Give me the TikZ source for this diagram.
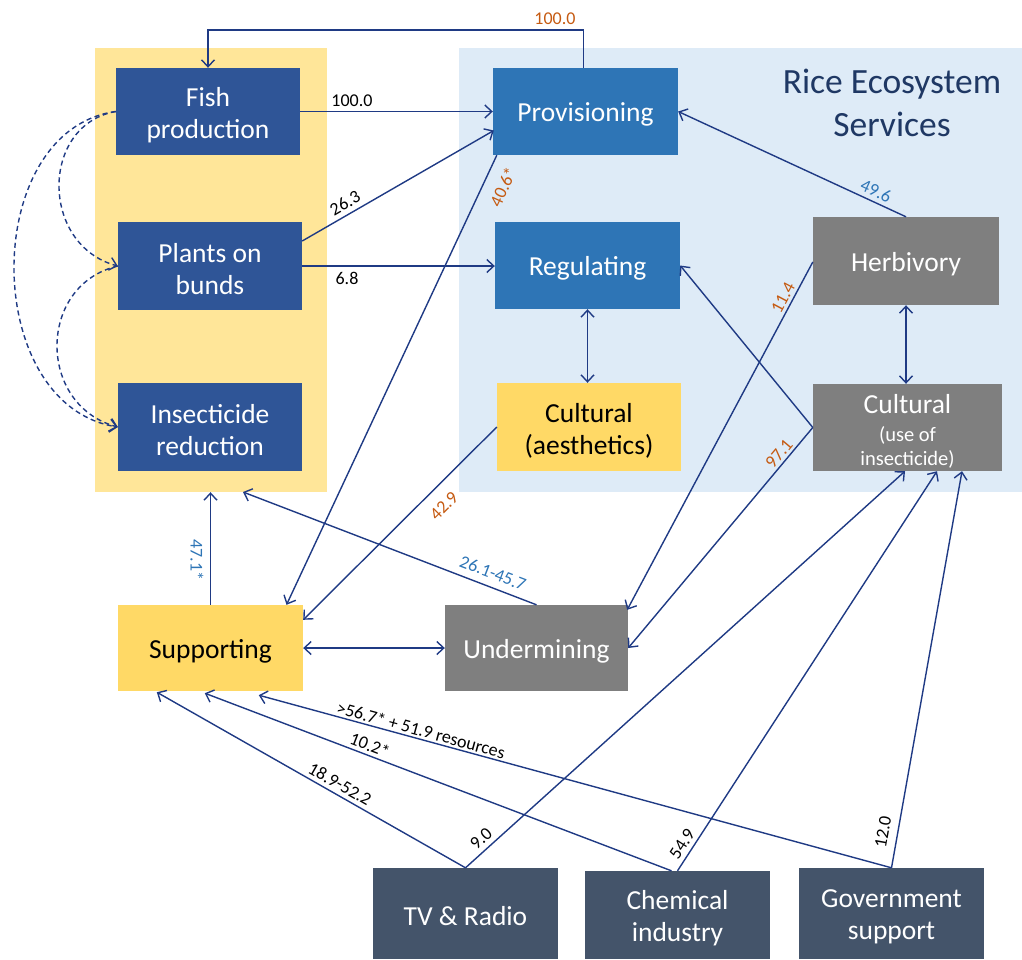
\documentclass[tikz,border=0pt]{standalone}
\usepackage{fontspec}
\setmainfont{Carlito}
\usetikzlibrary{arrows.meta,calc}
\definecolor{darkblue}{HTML}{2F5597}
\definecolor{midblue}{HTML}{2E75B6}
\definecolor{boxgray}{HTML}{7F7F7F}
\definecolor{boxyellow}{HTML}{FFD966}
\definecolor{bgyellow}{HTML}{FFE699}
\definecolor{bgblue}{HTML}{DEEBF7}
\definecolor{slate}{HTML}{44546A}
\definecolor{edgecol}{HTML}{1F3A84}
\definecolor{labor}{HTML}{C55A11}
\definecolor{labbl}{HTML}{2E75B6}
\definecolor{titlecol}{HTML}{1F3864}
\begin{document}
\begin{tikzpicture}[x=1pt,y=-1pt,
  box/.style={minimum width=185pt,minimum height=87pt,inner sep=0pt},
  dbox/.style={box,fill=darkblue},
  mbox/.style={box,fill=midblue},
  gbox/.style={box,fill=boxgray},
  ybox/.style={box,fill=boxyellow},
  sbox/.style={box,fill=slate},
  txt/.style={inner sep=0pt,align=center,font=\fontsize{27.5}{32}\selectfont,text=white},
  txtk/.style={txt,text=black},
  arr/.style={draw=edgecol,line width=1.4pt,-{Straight Barb[length=7pt,width=13pt]}},
  arrtwo/.style={draw=edgecol,line width=1.4pt,{Straight Barb[length=7pt,width=13pt]}-{Straight Barb[length=7pt,width=13pt]}},
  darr/.style={draw=edgecol,line width=1.4pt,dash pattern=on 5pt off 3.5pt,-{Straight Barb[length=7pt,width=13pt]}},
  lab/.style={inner sep=0pt,font=\fontsize{18}{20}\selectfont,text=black},
  labo/.style={lab,text=labor},
  labb/.style={lab,text=labbl}
]
\useasboundingbox (0,0) rectangle (1022,959);
% backgrounds
\node[fill=bgyellow,minimum width=232pt,minimum height=444pt,inner sep=0pt] (ybg) at (211,270) {};
\node[fill=bgblue,minimum width=563pt,minimum height=444pt,inner sep=0pt] (bbg) at (740.5,270) {};
\node[text=titlecol,align=center,font=\fontsize{35.5}{43}\selectfont] (title) at (892,103) {Rice Ecosystem\\Services};
% boxes
\node[dbox,minimum width=184pt] (Fish) at (208,111.5) {};
\node[dbox,minimum width=184pt,minimum height=88pt] (Plants) at (210,266) {};
\node[dbox,minimum width=184pt,minimum height=88pt] (Insect) at (210,427) {};
\node[mbox] (Prov) at (585.5,111.5) {};
\node[mbox] (Reg) at (587.5,265.5) {};
\node[gbox,minimum width=186pt,minimum height=88pt] (Herb) at (906,261) {};
\node[ybox,minimum width=184pt,minimum height=88pt] (CultA) at (589,427) {};
\node[gbox,minimum width=189pt] (CultU) at (907.5,427.5) {};
\node[ybox,minimum height=86pt] (Supp) at (210.5,648) {};
\node[gbox,minimum width=183pt,minimum height=86pt] (Under) at (536.5,648) {};
\node[sbox,minimum height=91pt] (TV) at (465.5,913.5) {};
\node[sbox,minimum height=88pt] (Chem) at (677.5,915) {};
\node[sbox,minimum height=91pt] (Gov) at (891.5,913.5) {};
% box texts
\node[txt] (tFish) at ($(Fish.center)+(0,3.5)$) {Fish\\production};
\node[txt] (tPlants) at ($(Plants.center)+(0,3.5)$) {Plants on\\bunds};
\node[txt] (tInsect) at ($(Insect.center)+(0,3.5)$) {Insecticide\\reduction};
\node[txt] (tProv) at ($(Prov.center)+(0,3)$) {Provisioning};
\node[txt] (tReg) at ($(Reg.center)+(0,3)$) {Regulating};
\node[txt] (tHerb) at ($(Herb.center)+(0,3)$) {Herbivory};
\node[txtk] (tCultA) at ($(CultA.center)+(0,3.5)$) {Cultural\\(aesthetics)};
\node[txt] (tCultU) at ($(CultU.center)+(0,4)$) {Cultural\\[-4pt]{\fontsize{20.5}{25}\selectfont (use of}\\[-8pt]{\fontsize{20.5}{25}\selectfont insecticide)}};
\node[txtk] (tSupp) at ($(Supp.center)+(0,3)$) {Supporting};
\node[txt] (tUnder) at ($(Under.center)+(0,3)$) {Undermining};
\node[txt] (tTV) at ($(TV.center)+(0,3)$) {TV \& Radio};
\node[txt] (tChem) at ($(Chem.center)+(0,3.5)$) {Chemical\\industry};
\node[txt] (tGov) at ($(Gov.center)+(0,3.5)$) {Government\\support};
% helper coordinates
\coordinate (topy) at (0,30);
\coordinate (ybgA) at (243,492);
\coordinate (provtop) at ($(Prov.north)+(-2,0)$);
% edges
\draw[arr] (provtop) -- (provtop |- topy) -| (Fish.north);
\node[labo] (l1) at (555,19) {100.0};
\draw[arr] (Fish.east) -- (Prov.west);
\node[lab] (l2) at (352,101) {100.0};
\draw[arr] ($(Plants.east)+(0,-25)$) -- ($(Prov.west)+(1,19)$);
\node[lab,rotate=30] (l3) at (345,203) {26.3};
\draw[arr] (Plants.east) -- (Plants.east -| Reg.west);
\node[lab] (l4) at (347,278) {6.8};
\draw[arr] ($(Prov.south west)+(4,0)$) -- ($(Supp.north)+(76,0)$);
\node[labo,rotate=65] (l5) at (503,187) {40.6*};
\draw[arr] (Herb.north) -- (Prov.east);
\node[labb,rotate=-24.7] (l6) at (876,191) {49.6};
\draw[arrtwo] (Reg.south) -- (Reg.south |- CultA.north);
\draw[arrtwo] (Herb.south) -- (Herb.south |- CultU.north);
\draw[arr] (CultU.west) -- (Reg.east);
\draw[arr] (CultU.west) -- (Under.east);
\node[labo,rotate=50] (l7) at (779,454) {97.1};
\draw[arr] ($(Herb.west)+(0,1)$) -- ($(Under.north east)+(-1,5)$);
\node[labo,rotate=62] (l8) at (783,298) {11.4};
\draw[arr] (CultA.west) -- ($(Supp.north east)+(0,15)$);
\node[labo,rotate=45] (l9) at (444,506) {42.9};
\draw[arr] (Under.north) -- (ybgA);
\node[labb,rotate=-21] (l10) at (493,573) {26.1-45.7};
\draw[arr] (Supp.north) -- (Supp.north |- ybg.south);
\node[labb,rotate=-90] (l11) at (197,560) {47.1*};
\draw[arrtwo] (Supp.east) -- (Under.west);
% dashed links
\draw[darr] (Fish.west) .. controls (40,125) and (40,245) .. (Plants.west);
\draw[darr] (Fish.west) .. controls (-20,130) and (-20,405) .. (Insect.west);
\draw[darr] (Plants.west) .. controls (37,285) and (37,405) .. (Insect.west);
% bottom drivers
\draw[arr] (TV.north) -- ($(Supp.south west)+(39,1)$);
\node[lab,rotate=-29.7] (l12) at (340,784) {18.9-52.2};
\draw[arr] ($(Chem.north)+(-6,0)$) -- ($(Supp.south west)+(87,2)$);
\node[lab,rotate=-21] (l13) at (370,745) {10.2*};
\draw[arr] (Gov.north) -- ($(Supp.south west)+(141,4)$);
\node[lab,rotate=-15.3] (l14) at (421,730) {>56.7* + 51.9 resources};
\draw[arr] (TV.north) -- ($(CultU.south)+(-2.5,0)$);
\node[lab,rotate=42] (l15) at (481,839) {9.0};
\draw[arr] (Chem.north) -- ($(CultU.south)+(29.5,0)$);
\node[lab,rotate=57] (l16) at (682,844) {54.9};
\draw[arr] (Gov.north) -- ($(CultU.south)+(54.5,0)$);
\node[lab,rotate=80] (l17) at (883,832) {12.0};
\end{tikzpicture}
\end{document}
